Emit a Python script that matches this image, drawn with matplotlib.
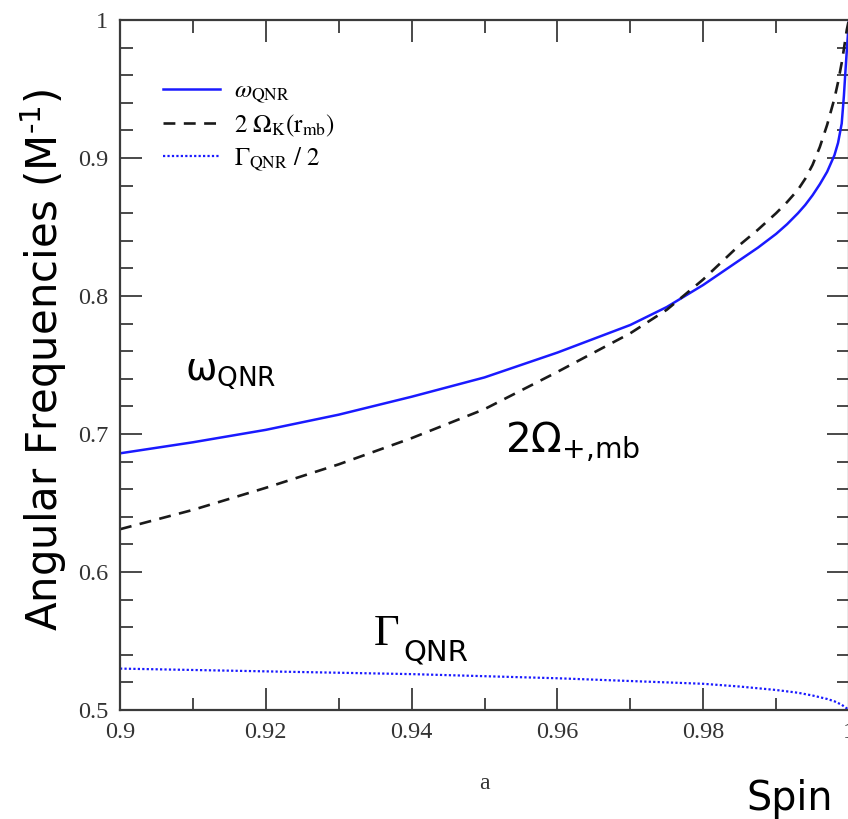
import matplotlib
matplotlib.use("Agg")
import matplotlib.pyplot as plt
from matplotlib.ticker import FixedLocator, FixedFormatter, MultipleLocator

# Spin parameter a and the frequencies plotted against it
spin = [0.90, 0.91, 0.92, 0.93, 0.94, 0.95, 0.96, 0.97, 0.975, 0.98, 0.985,
        0.9875, 0.99, 0.9915, 0.993, 0.994, 0.995, 0.996, 0.997, 0.998,
        0.9985, 0.999, 0.9993, 0.9995, 0.9997, 0.9999, 1.0]
omega_qnr = [0.686, 0.694, 0.703, 0.714, 0.727, 0.741, 0.759, 0.779, 0.792,
             0.808, 0.826, 0.835, 0.845, 0.852, 0.860, 0.866, 0.873, 0.881,
             0.890, 0.902, 0.911, 0.925, 0.945, 0.962, 0.978, 0.993, 1.0]
two_omega_k = [0.631, 0.645, 0.661, 0.678, 0.697, 0.718, 0.745, 0.773, 0.790,
               0.812, 0.837, 0.848, 0.860, 0.868, 0.877, 0.885, 0.895, 0.908,
               0.924, 0.943, 0.955, 0.969, 0.979, 0.986, 0.993, 0.998, 1.0]

spin_gamma = [0.90, 0.92, 0.94, 0.96, 0.97, 0.98, 0.985, 0.99, 0.993, 0.995,
              0.997, 0.998, 0.999, 1.0]
gamma_half = [0.530, 0.528, 0.526, 0.523, 0.521, 0.519, 0.517, 0.5145, 0.5125,
              0.5105, 0.508, 0.5063, 0.5038, 0.500]

x_ticks = [0.9, 0.92, 0.94, 0.96, 0.98, 1.0]
x_tick_labels = ["0.9", "0.92", "0.94", "0.96", "0.98", "1"]
y_ticks = [0.5, 0.6, 0.7, 0.8, 0.9, 1.0]
y_tick_labels = ["0.5", "0.6", "0.7", "0.8", "0.9", "1"]

legend_labels = [r"$\omega_{\mathrm{QNR}}$",
                 r"$2\ \Omega_{\mathrm{K}}(\mathrm{r}_{\mathrm{mb}})$",
                 r"$\Gamma_{\mathrm{QNR}}\ /\ 2$"]

W, H = 848, 819
fig = plt.figure(figsize=(W / 100, H / 100), dpi=100)


def px(x, y):
    """Pixel position (from top-left) to figure fraction."""
    return x / W, 1 - y / H


left, top, right, bottom = 120, 20, 849, 710
ax = fig.add_axes([left / W, 1 - bottom / H, (right - left) / W, (bottom - top) / H])

blue = "#1a1aff"
ax.plot(spin, omega_qnr, color=blue, lw=1.8, label=legend_labels[0])
ax.plot(spin, two_omega_k, color="#1a1a1a", lw=1.9, dashes=(4.5, 3.2),
        label=legend_labels[1])
ax.plot(spin_gamma, gamma_half, color=blue, lw=1.6, linestyle=(0, (1, 1)),
        label=legend_labels[2])

ax.set_xlim(0.9, 1.0)
ax.set_ylim(0.5, 1.0)

ax.xaxis.set_major_locator(FixedLocator(x_ticks))
ax.xaxis.set_major_formatter(FixedFormatter(x_tick_labels))
ax.yaxis.set_major_locator(FixedLocator(y_ticks))
ax.yaxis.set_major_formatter(FixedFormatter(y_tick_labels))
ax.xaxis.set_minor_locator(MultipleLocator(0.01))
ax.yaxis.set_minor_locator(MultipleLocator(0.02))

spine_color = "#3a3a3a"
for s in ax.spines.values():
    s.set_color(spine_color)
    s.set_linewidth(1.6)

ax.tick_params(which="both", direction="in", top=True, right=True,
               color=spine_color, width=1.3)
ax.tick_params(which="major", length=16, pad=8.5, labelsize=17.5,
               labelcolor="#333333")
ax.tick_params(which="minor", length=9)
for lab in ax.get_xticklabels() + ax.get_yticklabels():
    lab.set_family("Liberation Serif")

ax.set_xlabel("a", family="Liberation Serif", fontsize=17, color="#333333",
              labelpad=22)

leg = ax.legend(loc="upper left", bbox_to_anchor=(0.045, 0.93), frameon=False,
                fontsize=18, handlelength=2.3, handletextpad=0.55,
                labelspacing=0.28, borderaxespad=0)
for t in leg.get_texts():
    t.set_math_fontfamily("stix")

sans = dict(family="DejaVu Sans", color="black")

# curve annotations
fig.text(*px(185, 380), r"$\mathregular{ω_{QNR}}$", fontsize=27,
         ha="left", va="baseline", **sans)
fig.text(*px(505, 452), r"$\mathregular{2Ω}_{\text{+,mb}}$", fontsize=29,
         ha="left", va="baseline", **sans)
fig.text(*px(374, 645), "Γ", family="Liberation Serif", fontsize=32,
         ha="left", va="baseline", color="black")
fig.text(*px(403, 660), "QNR", fontsize=21, ha="left", va="baseline", **sans)

# outer axis titles
fig.text(*px(746, 810), "Spin", fontsize=28.5, ha="left", va="baseline", **sans)
fig.text(*px(58, 360), r"Angular Frequencies (M$^{\text{-1}}$)",
         fontsize=30.2, rotation=90, rotation_mode="anchor",
         ha="center", va="baseline", **sans)

fig.savefig("out.png", dpi=100)
